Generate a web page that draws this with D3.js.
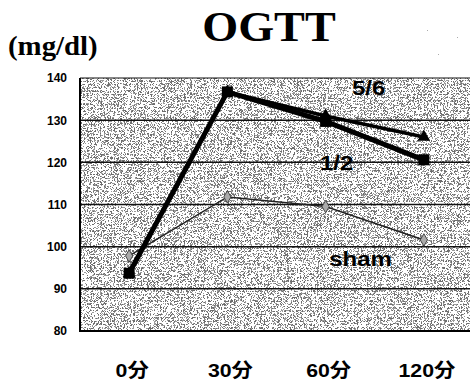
<!DOCTYPE html>
<html>
<head>
<meta charset="utf-8">
<script src="https://cdn.jsdelivr.net/npm/d3@7"></script>
<style>
  html, body { margin: 0; padding: 0; background: #fff; }
  svg { display: block; }
</style>
</head>
<body>
<svg id="chart" width="470" height="382"></svg>
<script>
// OGTT blood glucose (mg/dl) over time for three groups
const categories = ["0分", "30分", "60分", "120分"];
const seriesHalf = [93.7, 136.7, 129.7, 120.6];      // 1/2
const seriesFiveSixth = [93.7, 136.7, 131.0, 126.0]; // 5/6
const seriesSham = [97.8, 111.8, 109.5, 101.6];      // sham
const yTicks = [80, 90, 100, 110, 120, 130, 140];
const seriesNames = ["5/6", "1/2", "sham"];

const svg = d3.select("#chart");
const defs = svg.append("defs");

// fine speckled fill used for the plot area
function makeGrain(id, freq, table) {
  const f = defs.append("filter")
    .attr("id", id)
    .attr("x", 0).attr("y", 0).attr("width", 1).attr("height", 1)
    .attr("color-interpolation-filters", "sRGB");
  f.append("feTurbulence")
    .attr("type", "turbulence").attr("baseFrequency", freq)
    .attr("numOctaves", 1).attr("seed", 5);
  f.append("feColorMatrix").attr("type", "matrix")
    .attr("values", "0 0 0 0 0.08  0 0 0 0 0.08  0 0 0 0 0.08  1 0 0 0 0");
  f.append("feComponentTransfer").append("feFuncA")
    .attr("type", "discrete").attr("tableValues", table);
  f.append("feComposite").attr("operator", "in").attr("in2", "SourceGraphic");
}
makeGrain("grain", 1.7, "0 0 0.7 1 1 1 1 1 1 1");
makeGrain("grainLight", 1.7, "0 0 0 0 0 0 1 1 1 1");

const plotLeft = 80, plotRight = 473, plotTop = 78, plotBottom = 331;

const x = d3.scaleBand().domain(categories).range([plotLeft, plotRight]).padding(0);
const cx = c => x(c) + x.bandwidth() / 2;
const y = d3.scaleLinear().domain([80, 140]).range([plotBottom, plotTop]);

// stretch text horizontally to the wide lettering of the chart
function widen(sel, k) {
  sel.each(function () {
    const w = this.getComputedTextLength();
    d3.select(this).attr("textLength", w * k).attr("lengthAdjust", "spacingAndGlyphs");
  });
}

// faint speckle patches near the title
svg.append("ellipse")
  .attr("cx", 446).attr("cy", 37).attr("rx", 30).attr("ry", 23)
  .attr("fill", "#fff").attr("filter", "url(#grainLight)").attr("opacity", 0.35);
svg.append("ellipse")
  .attr("cx", 360).attr("cy", 36).attr("rx", 24).attr("ry", 4)
  .attr("fill", "#fff").attr("filter", "url(#grainLight)").attr("opacity", 0.3);

// title and unit
svg.append("text")
  .attr("x", 269).attr("y", 41)
  .attr("text-anchor", "middle")
  .attr("font-family", "'Liberation Serif', 'Times New Roman', serif")
  .attr("font-weight", "bold").attr("font-size", 42)
  .text("OGTT")
  .call(widen, 1.1);

svg.append("text")
  .attr("x", 8).attr("y", 55)
  .attr("font-family", "'Liberation Serif', 'Times New Roman', serif")
  .attr("font-weight", "bold").attr("font-size", 28)
  .text("(mg/dl)")
  .call(widen, 1.03);

// plot area
svg.append("rect")
  .attr("x", plotLeft).attr("y", plotTop).attr("width", 470 - plotLeft).attr("height", plotBottom - plotTop)
  .attr("fill", "#ffffff");
svg.append("rect")
  .attr("x", plotLeft).attr("y", plotTop).attr("width", 470 - plotLeft).attr("height", plotBottom - plotTop)
  .attr("fill", "#ffffff").attr("filter", "url(#grain)").attr("opacity", 0.62);

// horizontal gridlines
svg.append("g").selectAll("line")
  .data(yTicks.filter(t => t > 80))
  .join("line")
  .attr("x1", plotLeft).attr("x2", 470)
  .attr("y1", d => y(d)).attr("y2", d => y(d))
  .attr("stroke", "#111").attr("stroke-width", d => d === 140 ? 1.2 : 1.5);

// axis lines
svg.append("line")
  .attr("x1", plotLeft).attr("x2", plotLeft).attr("y1", plotTop).attr("y2", plotBottom + 1)
  .attr("stroke", "#000").attr("stroke-width", 2);
svg.append("line")
  .attr("x1", plotLeft - 1).attr("x2", 470).attr("y1", plotBottom).attr("y2", plotBottom)
  .attr("stroke", "#000").attr("stroke-width", 2);

// y-axis tick labels
const yAxis = d3.axisLeft(y).tickValues(yTicks).tickSize(0).tickPadding(13);
const yg = svg.append("g").attr("transform", `translate(${plotLeft},0)`).call(yAxis);
yg.select(".domain").remove();
yg.selectAll("text")
  .attr("font-family", "'Liberation Sans', Arial, sans-serif")
  .attr("font-weight", "bold").attr("font-size", 12)
  .attr("fill", "#000");

// x-axis category labels
const xAxis = d3.axisBottom(x).tickSize(0).tickPadding(0);
const xg = svg.append("g").attr("transform", `translate(3,${plotBottom})`).call(xAxis);
xg.select(".domain").remove();
xg.selectAll("text")
  .attr("dy", 0).attr("y", 46)
  .attr("font-family", "'Liberation Sans', 'Noto Sans CJK JP', Arial, sans-serif")
  .attr("font-weight", "bold").attr("font-size", 19)
  .attr("fill", "#000")
  .call(widen, 1.12);

const line = d3.line().x((d, i) => cx(categories[i])).y(d => y(d));

// sham: thin dark grey line with diamonds
svg.append("path").datum(seriesSham)
  .attr("d", line).attr("fill", "none")
  .attr("stroke", "#222").attr("stroke-width", 1.5);
svg.append("g").selectAll("path")
  .data(seriesSham)
  .join("path")
  .attr("d", d3.symbol(d3.symbolDiamond, 45))
  .attr("transform", (d, i) => `translate(${cx(categories[i])},${y(d)})`)
  .attr("fill", "#aaa").attr("stroke", "#444").attr("stroke-width", 1);

// 5/6: black line with triangles
svg.append("path").datum(seriesFiveSixth)
  .attr("d", line).attr("fill", "none")
  .attr("stroke", "#000").attr("stroke-width", 3.5);
svg.append("g").selectAll("path")
  .data(seriesFiveSixth)
  .join("path")
  .attr("d", d3.symbol(d3.symbolTriangle, 70))
  .attr("transform", (d, i) => `translate(${cx(categories[i])},${y(d)})`)
  .attr("fill", "#000");

// 1/2: thick black line with squares
svg.append("path").datum(seriesHalf)
  .attr("d", line).attr("fill", "none")
  .attr("stroke", "#000").attr("stroke-width", 5);
svg.append("g").selectAll("rect")
  .data(seriesHalf)
  .join("rect")
  .attr("x", (d, i) => cx(categories[i]) - 5.5)
  .attr("y", d => y(d) - 5.5)
  .attr("width", 11).attr("height", 11)
  .attr("fill", "#000");

// series labels
const labelPos = {
  "5/6": [cx("60分") + 43, y(135.9)],
  "1/2": [cx("60分") + 11, y(118.1)],
  "sham": [cx("60分") + 35, y(95.5)]
};
svg.append("g").selectAll("text")
  .data(seriesNames)
  .join("text")
  .attr("x", d => labelPos[d][0]).attr("y", d => labelPos[d][1])
  .attr("text-anchor", "middle")
  .attr("font-family", "'Liberation Sans', Arial, sans-serif")
  .attr("font-weight", "bold").attr("font-size", 20)
  .attr("fill", "#000")
  .text(d => d)
  .call(widen, 1.2);
</script>
</body>
</html>
